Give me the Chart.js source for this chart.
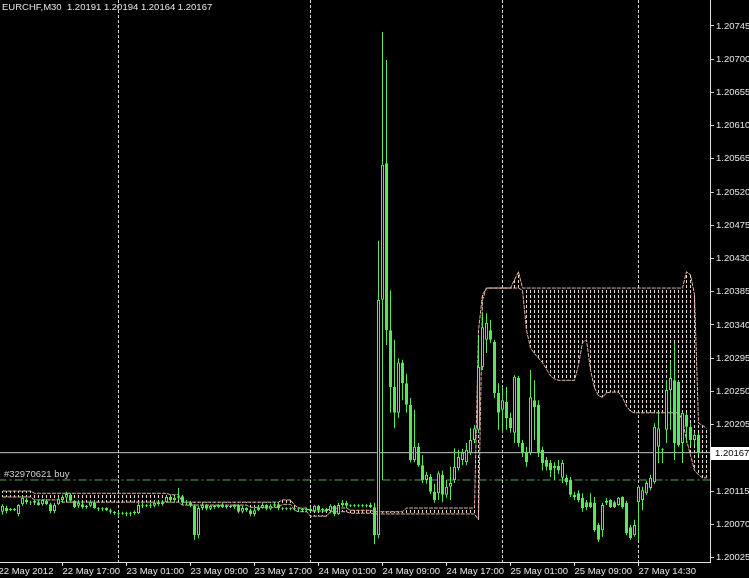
<!DOCTYPE html>
<html>
<head>
<meta charset="utf-8">
<script src="https://cdn.jsdelivr.net/npm/chart.js@4.4.1/dist/chart.umd.min.js"></script>
<style>
  html, body { margin: 0; padding: 0; background: #000; }
  canvas { display: block; }
</style>
</head>
<body>
<canvas id="myChart" width="749" height="578"></canvas>
<script>
var symbolTitle = 'EURCHF,M30  1.20191 1.20194 1.20164 1.20167';
var orderLabel = '#32970621 buy';
var orderPrice = 1.20130;
var bidPrice = 1.20167;

// M30 candles, one per bar index
var opens = [
  1.20087, 1.20092, 1.20089, 1.20091, 1.20084, 1.20097, 1.20103, 1.20100, 1.20099, 1.20100,
  1.20097, 1.20102, 1.20097, 1.20088, 1.20097, 1.20103, 1.20106, 1.20110, 1.20102, 1.20095,
  1.20097, 1.20093, 1.20095, 1.20100, 1.20092, 1.20091, 1.20092, 1.20089, 1.20087, 1.20085,
  1.20084, 1.20085, 1.20084, 1.20085, 1.20085, 1.20096, 1.20095, 1.20096, 1.20095, 1.20099,
  1.20097, 1.20100, 1.20107, 1.20103, 1.20106, 1.20108, 1.20099, 1.20100, 1.20095, 1.20055,
  1.20092, 1.20096, 1.20091, 1.20095, 1.20093, 1.20096, 1.20093, 1.20095, 1.20093, 1.20096,
  1.20087, 1.20092, 1.20089, 1.20084, 1.20089, 1.20092, 1.20096, 1.20091, 1.20095, 1.20097,
  1.20092, 1.20091, 1.20092, 1.20091, 1.20092, 1.20091, 1.20089, 1.20091, 1.20088, 1.20095,
  1.20089, 1.20091, 1.20088, 1.20095, 1.20084, 1.20096, 1.20099, 1.20095, 1.20096, 1.20095,
  1.20096, 1.20095, 1.20096, 1.20093, 1.20055, 1.20374, 1.20559, 1.20333, 1.20256, 1.20221,
  1.20289, 1.20261, 1.20232, 1.20157, 1.20175, 1.20150, 1.20130, 1.20134, 1.20114, 1.20112,
  1.20137, 1.20110, 1.20121, 1.20130, 1.20146, 1.20157, 1.20154, 1.20167, 1.20184, 1.20198,
  1.20283, 1.20320, 1.20333, 1.20317, 1.20248, 1.20225, 1.20236, 1.20214, 1.20194, 1.20268,
  1.20180, 1.20168, 1.20167, 1.20238, 1.20232, 1.20171, 1.20157, 1.20153, 1.20146, 1.20149,
  1.20133, 1.20133, 1.20130, 1.20110, 1.20112, 1.20106, 1.20100, 1.20100, 1.20099, 1.20069,
  1.20062, 1.20099, 1.20103, 1.20100, 1.20096, 1.20107, 1.20099, 1.20066, 1.20055, 1.20100,
  1.20103, 1.20112, 1.20119, 1.20127, 1.20175, 1.20171, 1.20198, 1.20252, 1.20265, 1.20263,
  1.20180, 1.20218, 1.20202, 1.20184, 1.20191
];
var highs = [
  1.20097, 1.20095, 1.20092, 1.20092, 1.20097, 1.20108, 1.20106, 1.20102, 1.20104, 1.20103,
  1.20104, 1.20104, 1.20099, 1.20099, 1.20107, 1.20110, 1.20114, 1.20112, 1.20103, 1.20102,
  1.20100, 1.20096, 1.20103, 1.20102, 1.20093, 1.20093, 1.20093, 1.20091, 1.20088, 1.20087,
  1.20087, 1.20087, 1.20087, 1.20089, 1.20099, 1.20099, 1.20097, 1.20099, 1.20102, 1.20102,
  1.20103, 1.20108, 1.20110, 1.20108, 1.20119, 1.20110, 1.20103, 1.20102, 1.20097, 1.20095,
  1.20099, 1.20097, 1.20096, 1.20096, 1.20097, 1.20099, 1.20096, 1.20096, 1.20097, 1.20097,
  1.20095, 1.20093, 1.20091, 1.20092, 1.20095, 1.20099, 1.20097, 1.20097, 1.20100, 1.20099,
  1.20093, 1.20093, 1.20093, 1.20093, 1.20093, 1.20092, 1.20092, 1.20092, 1.20096, 1.20096,
  1.20092, 1.20092, 1.20097, 1.20096, 1.20099, 1.20103, 1.20102, 1.20097, 1.20097, 1.20097,
  1.20097, 1.20097, 1.20099, 1.20099, 1.20454, 1.20737, 1.20699, 1.20387, 1.20320, 1.20295,
  1.20293, 1.20274, 1.20241, 1.20225, 1.20180, 1.20164, 1.20141, 1.20138, 1.20125, 1.20142,
  1.20143, 1.20130, 1.20148, 1.20173, 1.20171, 1.20172, 1.20180, 1.20200, 1.20204, 1.20324,
  1.20356, 1.20356, 1.20347, 1.20320, 1.20261, 1.20256, 1.20256, 1.20221, 1.20272, 1.20271,
  1.20184, 1.20175, 1.20279, 1.20265, 1.20238, 1.20175, 1.20161, 1.20157, 1.20154, 1.20157,
  1.20157, 1.20137, 1.20134, 1.20114, 1.20116, 1.20112, 1.20103, 1.20112, 1.20107, 1.20072,
  1.20099, 1.20106, 1.20104, 1.20102, 1.20107, 1.20108, 1.20102, 1.20069, 1.20076, 1.20123,
  1.20121, 1.20129, 1.20137, 1.20207, 1.20221, 1.20173, 1.20265, 1.20290, 1.20316, 1.20265,
  1.20222, 1.20221, 1.20207, 1.20194, 1.20194
];
var lows = [
  1.20083, 1.20085, 1.20088, 1.20088, 1.20081, 1.20095, 1.20097, 1.20096, 1.20096, 1.20095,
  1.20095, 1.20096, 1.20085, 1.20085, 1.20096, 1.20099, 1.20103, 1.20099, 1.20092, 1.20092,
  1.20091, 1.20091, 1.20093, 1.20091, 1.20088, 1.20088, 1.20088, 1.20084, 1.20083, 1.20081,
  1.20083, 1.20081, 1.20081, 1.20083, 1.20084, 1.20092, 1.20093, 1.20092, 1.20093, 1.20095,
  1.20095, 1.20099, 1.20100, 1.20100, 1.20103, 1.20096, 1.20096, 1.20093, 1.20049, 1.20051,
  1.20089, 1.20089, 1.20089, 1.20091, 1.20092, 1.20092, 1.20091, 1.20092, 1.20091, 1.20085,
  1.20085, 1.20087, 1.20081, 1.20081, 1.20088, 1.20091, 1.20089, 1.20089, 1.20093, 1.20089,
  1.20089, 1.20089, 1.20089, 1.20089, 1.20088, 1.20088, 1.20088, 1.20087, 1.20087, 1.20088,
  1.20088, 1.20087, 1.20085, 1.20081, 1.20083, 1.20093, 1.20092, 1.20093, 1.20093, 1.20093,
  1.20093, 1.20093, 1.20092, 1.20043, 1.20051, 1.20130, 1.20313, 1.20221, 1.20200, 1.20214,
  1.20238, 1.20221, 1.20154, 1.20154, 1.20148, 1.20126, 1.20125, 1.20111, 1.20099, 1.20103,
  1.20100, 1.20106, 1.20103, 1.20126, 1.20143, 1.20150, 1.20150, 1.20164, 1.20180, 1.20194,
  1.20279, 1.20302, 1.20316, 1.20241, 1.20198, 1.20194, 1.20198, 1.20194, 1.20180, 1.20175,
  1.20161, 1.20148, 1.20164, 1.20184, 1.20161, 1.20143, 1.20143, 1.20134, 1.20130, 1.20138,
  1.20126, 1.20123, 1.20107, 1.20103, 1.20100, 1.20087, 1.20089, 1.20092, 1.20060, 1.20046,
  1.20053, 1.20096, 1.20092, 1.20092, 1.20095, 1.20091, 1.20055, 1.20049, 1.20053, 1.20049,
  1.20089, 1.20110, 1.20116, 1.20125, 1.20153, 1.20153, 1.20180, 1.20198, 1.20157, 1.20175,
  1.20153, 1.20180, 1.20177, 1.20177, 1.20164
];
var closes = [
  1.20095, 1.20088, 1.20091, 1.20089, 1.20096, 1.20106, 1.20100, 1.20099, 1.20102, 1.20096,
  1.20103, 1.20097, 1.20088, 1.20096, 1.20104, 1.20107, 1.20111, 1.20102, 1.20093, 1.20099,
  1.20093, 1.20095, 1.20100, 1.20092, 1.20091, 1.20092, 1.20089, 1.20087, 1.20085, 1.20084,
  1.20085, 1.20084, 1.20085, 1.20087, 1.20096, 1.20095, 1.20096, 1.20095, 1.20099, 1.20097,
  1.20100, 1.20107, 1.20103, 1.20106, 1.20108, 1.20099, 1.20100, 1.20095, 1.20055, 1.20092,
  1.20096, 1.20091, 1.20095, 1.20093, 1.20096, 1.20093, 1.20095, 1.20093, 1.20096, 1.20087,
  1.20092, 1.20089, 1.20084, 1.20089, 1.20092, 1.20096, 1.20091, 1.20095, 1.20097, 1.20092,
  1.20091, 1.20092, 1.20091, 1.20092, 1.20091, 1.20089, 1.20091, 1.20088, 1.20095, 1.20089,
  1.20091, 1.20088, 1.20095, 1.20084, 1.20096, 1.20099, 1.20095, 1.20096, 1.20095, 1.20096,
  1.20095, 1.20096, 1.20093, 1.20055, 1.20374, 1.20557, 1.20333, 1.20256, 1.20221, 1.20289,
  1.20261, 1.20232, 1.20157, 1.20175, 1.20150, 1.20130, 1.20137, 1.20114, 1.20103, 1.20139,
  1.20110, 1.20121, 1.20126, 1.20148, 1.20161, 1.20167, 1.20171, 1.20184, 1.20200, 1.20283,
  1.20337, 1.20343, 1.20320, 1.20248, 1.20221, 1.20238, 1.20214, 1.20200, 1.20270, 1.20180,
  1.20167, 1.20154, 1.20242, 1.20229, 1.20167, 1.20153, 1.20148, 1.20143, 1.20149, 1.20143,
  1.20153, 1.20127, 1.20110, 1.20107, 1.20103, 1.20092, 1.20093, 1.20093, 1.20062, 1.20049,
  1.20096, 1.20102, 1.20093, 1.20093, 1.20106, 1.20093, 1.20058, 1.20051, 1.20069, 1.20121,
  1.20116, 1.20126, 1.20133, 1.20202, 1.20200, 1.20172, 1.20252, 1.20268, 1.20180, 1.20177,
  1.20221, 1.20202, 1.20184, 1.20191, 1.20167
];

// cloud (two span lines, shifted a couple of bars past the last candle)
var cloudTop = [
  1.20115, 1.20115, 1.20115, 1.20115, 1.20115, 1.20115, 1.20115, 1.20115, 1.20112, 1.20112,
  1.20112, 1.20112, 1.20112, 1.20112, 1.20112, 1.20112, 1.20112, 1.20112, 1.20112, 1.20112,
  1.20112, 1.20112, 1.20112, 1.20112, 1.20112, 1.20112, 1.20112, 1.20112, 1.20112, 1.20112,
  1.20112, 1.20112, 1.20112, 1.20112, 1.20112, 1.20112, 1.20112, 1.20112, 1.20112, 1.20112,
  1.20112, 1.20112, 1.20110, 1.20110, 1.20110, 1.20100, 1.20100, 1.20100, 1.20100, 1.20100,
  1.20100, 1.20100, 1.20100, 1.20100, 1.20100, 1.20100, 1.20100, 1.20100, 1.20100, 1.20100,
  1.20100, 1.20100, 1.20100, 1.20100, 1.20100, 1.20100, 1.20100, 1.20100, 1.20100, 1.20100,
  1.20103, 1.20103, 1.20103, 1.20096, 1.20092, 1.20092, 1.20092, 1.20088, 1.20088, 1.20088,
  1.20088, 1.20088, 1.20092, 1.20092, 1.20092, 1.20092, 1.20092, 1.20089, 1.20089, 1.20089,
  1.20089, 1.20089, 1.20089, 1.20087, 1.20087, 1.20087, 1.20087, 1.20087, 1.20087, 1.20087,
  1.20087, 1.20092, 1.20092, 1.20092, 1.20092, 1.20092, 1.20092, 1.20092, 1.20092, 1.20092,
  1.20092, 1.20092, 1.20092, 1.20092, 1.20092, 1.20092, 1.20092, 1.20092, 1.20092, 1.20333,
  1.20381, 1.20390, 1.20390, 1.20390, 1.20390, 1.20390, 1.20390, 1.20390, 1.20401, 1.20412,
  1.20390, 1.20390, 1.20390, 1.20390, 1.20390, 1.20390, 1.20390, 1.20390, 1.20390, 1.20390,
  1.20390, 1.20390, 1.20390, 1.20390, 1.20390, 1.20390, 1.20390, 1.20390, 1.20390, 1.20390,
  1.20390, 1.20390, 1.20390, 1.20390, 1.20390, 1.20390, 1.20390, 1.20390, 1.20390, 1.20390,
  1.20390, 1.20390, 1.20390, 1.20390, 1.20390, 1.20390, 1.20390, 1.20390, 1.20390, 1.20390,
  1.20390, 1.20412, 1.20408, 1.20381, 1.20207, 1.20204, 1.20200
];
var cloudBottom = [
  1.20107, 1.20107, 1.20107, 1.20107, 1.20107, 1.20107, 1.20107, 1.20107, 1.20103, 1.20103,
  1.20103, 1.20103, 1.20103, 1.20103, 1.20103, 1.20100, 1.20100, 1.20100, 1.20100, 1.20100,
  1.20100, 1.20100, 1.20100, 1.20100, 1.20100, 1.20100, 1.20100, 1.20100, 1.20100, 1.20100,
  1.20100, 1.20100, 1.20100, 1.20100, 1.20100, 1.20100, 1.20100, 1.20100, 1.20100, 1.20100,
  1.20100, 1.20100, 1.20100, 1.20100, 1.20100, 1.20096, 1.20096, 1.20096, 1.20096, 1.20096,
  1.20096, 1.20096, 1.20096, 1.20096, 1.20096, 1.20096, 1.20096, 1.20096, 1.20096, 1.20096,
  1.20096, 1.20096, 1.20093, 1.20093, 1.20093, 1.20093, 1.20093, 1.20093, 1.20093, 1.20093,
  1.20097, 1.20097, 1.20097, 1.20089, 1.20087, 1.20087, 1.20087, 1.20081, 1.20081, 1.20081,
  1.20081, 1.20081, 1.20087, 1.20087, 1.20087, 1.20087, 1.20087, 1.20085, 1.20085, 1.20085,
  1.20085, 1.20085, 1.20085, 1.20084, 1.20084, 1.20084, 1.20084, 1.20084, 1.20084, 1.20084,
  1.20084, 1.20084, 1.20084, 1.20084, 1.20084, 1.20084, 1.20084, 1.20084, 1.20084, 1.20084,
  1.20084, 1.20084, 1.20084, 1.20084, 1.20084, 1.20084, 1.20084, 1.20084, 1.20084, 1.20076,
  1.20374, 1.20390, 1.20390, 1.20390, 1.20390, 1.20390, 1.20390, 1.20390, 1.20390, 1.20390,
  1.20387, 1.20333, 1.20309, 1.20301, 1.20295, 1.20289, 1.20280, 1.20271, 1.20267, 1.20265,
  1.20265, 1.20265, 1.20265, 1.20265, 1.20286, 1.20316, 1.20320, 1.20279, 1.20255, 1.20244,
  1.20242, 1.20248, 1.20249, 1.20249, 1.20249, 1.20242, 1.20230, 1.20223, 1.20221, 1.20221,
  1.20221, 1.20221, 1.20221, 1.20221, 1.20221, 1.20221, 1.20221, 1.20221, 1.20221, 1.20221,
  1.20211, 1.20184, 1.20164, 1.20143, 1.20137, 1.20133, 1.20133
];

var timeLabels = ['22 May 2012', '22 May 17:00', '23 May 01:00', '23 May 09:00', '23 May 17:00',
  '24 May 01:00', '24 May 09:00', '24 May 17:00', '25 May 01:00', '25 May 09:00', '27 May 14:30'];
var timeLabelBars = [-1, 15, 31, 47, 63, 79, 95, 111, 127, 143, 159];
var daySeparatorBars = [29, 77, 125, 159];
var priceTicks = [1.20025, 1.20070, 1.20115, 1.20160, 1.20205, 1.20250, 1.20295, 1.20340, 1.20385,
  1.20430, 1.20475, 1.20520, 1.20565, 1.20610, 1.20655, 1.20700, 1.20745];

var candleGreen = '#5ae65a';
var textColor = '#e4e4e4';
var cloudLine = '#e6b8a6';
var fontFamily = '"Liberation Sans", Arial, sans-serif';
var fontSize = 9.5;

var canvas = document.getElementById('myChart');
var ctx = canvas.getContext('2d');

// vertical dotted fill used by the cloud histogram
var dotCanvas = document.createElement('canvas');
dotCanvas.width = 1;
dotCanvas.height = 5;
var dctx = dotCanvas.getContext('2d');
dctx.fillStyle = '#f0d6ca';
dctx.fillRect(0, 0, 1, 3);
var dotPattern = ctx.createPattern(dotCanvas, 'repeat');

var xTicks = timeLabelBars.concat(daySeparatorBars.filter(function(v) { return timeLabelBars.indexOf(v) < 0; }));

var wickData = highs.map(function(h, i) { return { x: i, y: [lows[i], h] }; });
var bodyData = opens.map(function(o, i) { return { x: i, y: [o, closes[i]] }; });
var cloudData = cloudTop.map(function(t, i) { return { x: i, y: [cloudBottom[i], t] }; });
var topLine = cloudTop.map(function(t, i) { return { x: i, y: t }; });
var bottomLine = cloudBottom.map(function(b, i) { return { x: i, y: b }; });

var overlay = {
  id: 'overlay',
  beforeDraw: function(chart) {
    var c = chart.ctx;
    c.save();
    c.fillStyle = '#000';
    c.fillRect(0, 0, chart.width, chart.height);
    c.restore();
  },
  afterDraw: function(chart) {
    var c = chart.ctx;
    var y = chart.scales.y;
    var area = chart.chartArea;
    c.save();
    c.font = fontSize + 'px ' + fontFamily;
    c.textBaseline = 'middle';
    c.textAlign = 'left';
    c.fillStyle = textColor;
    c.fillText(symbolTitle, 2, 7);
    c.fillStyle = '#cfcfcf';
    c.fillText(orderLabel, 4, y.getPixelForValue(orderPrice) - 6);
    var by = Math.round(y.getPixelForValue(bidPrice));
    c.fillStyle = '#ffffff';
    c.fillRect(area.right + 1, by - 6, chart.width - area.right - 1, 13);
    c.fillStyle = '#000000';
    c.fillText(bidPrice.toFixed(5), area.right + 5, by + 0.5);
    c.restore();
  }
};

var config = {
  type: 'bar',
  data: {
    datasets: [
      {
        type: 'bar', label: 'cloud', data: cloudData, order: 6,
        backgroundColor: dotPattern, borderWidth: 0, barThickness: 1,
        inflateAmount: 0, grouped: false
      },
      {
        type: 'line', label: 'span top', data: topLine, order: 5,
        borderColor: cloudLine, borderWidth: 1, borderDash: [4, 1], pointRadius: 0, tension: 0
      },
      {
        type: 'line', label: 'span bottom', data: bottomLine, order: 5,
        borderColor: cloudLine, borderWidth: 1, borderDash: [4, 1], pointRadius: 0, tension: 0
      },
      {
        type: 'line', label: 'order', order: 4,
        data: [{ x: -1, y: orderPrice }, { x: 178, y: orderPrice }],
        borderColor: '#4fae4f', borderWidth: 1, borderDash: [8, 3, 2, 3], pointRadius: 0
      },
      {
        type: 'line', label: 'bid', order: 3,
        data: [{ x: -1, y: bidPrice }, { x: 178, y: bidPrice }],
        borderColor: '#c4c4c4', borderWidth: 1, pointRadius: 0
      },
      {
        type: 'bar', label: 'wicks', data: wickData, order: 2,
        backgroundColor: candleGreen, borderWidth: 0, barThickness: 1,
        inflateAmount: 0, grouped: false
      },
      {
        type: 'bar', label: 'bodies', data: bodyData, order: 1,
        backgroundColor: function(c) {
          var i = c.dataIndex;
          return closes[i] < opens[i] ? candleGreen : '#000000';
        },
        borderColor: candleGreen, borderWidth: 1, borderSkipped: false,
        barThickness: 3, inflateAmount: 0, grouped: false
      }
    ]
  },
  options: {
    responsive: false,
    devicePixelRatio: 1,
    animation: false,
    events: [],
    layout: { padding: 0 },
    plugins: {
      legend: { display: false },
      tooltip: { enabled: false }
    },
    scales: {
      x: {
        type: 'linear', min: -0.625, max: 176.875, offset: false,
        afterBuildTicks: function(scale) {
          scale.ticks = xTicks.map(function(v) { return { value: v }; });
        },
        afterFit: function(scale) {
          scale.height = 16;
          scale.paddingLeft = 0;
          scale.paddingRight = 0;
        },
        grid: {
          offset: false,
          lineWidth: 1,
          tickLength: 4,
          color: function(c) {
            return c.tick && daySeparatorBars.indexOf(c.tick.value) >= 0 ? '#d6d6d6' : 'rgba(0,0,0,0)';
          },
          tickColor: function(c) {
            return c.tick && timeLabelBars.indexOf(c.tick.value) > 0 ? '#e0e0e0' : 'rgba(0,0,0,0)';
          }
        },
        border: {
          color: '#e0e0e0', width: 1,
          dash: function(c) { return c.tick ? [3, 2] : []; }
        },
        ticks: {
          autoSkip: false, maxRotation: 0, minRotation: 0,
          align: 'start', padding: 0, color: textColor,
          font: { family: fontFamily, size: fontSize },
          callback: function(value) {
            var k = timeLabelBars.indexOf(value);
            return k >= 0 ? timeLabels[k] : '';
          }
        }
      },
      y: {
        type: 'linear', position: 'right', min: 1.200189, max: 1.207802,
        afterBuildTicks: function(scale) {
          scale.ticks = priceTicks.map(function(v) { return { value: v }; });
        },
        afterFit: function(scale) {
          scale.width = 39;
          scale.paddingTop = 0;
          scale.paddingBottom = 0;
        },
        grid: { drawOnChartArea: false, tickLength: 4, tickColor: '#d0d0d0' },
        border: { color: '#e0e0e0', width: 1 },
        ticks: {
          padding: 2, color: textColor,
          font: { family: fontFamily, size: fontSize },
          callback: function(value) { return value.toFixed(5); }
        }
      }
    }
  },
  plugins: [overlay]
};

var myChart = new Chart(ctx, config);
</script>
</body>
</html>
